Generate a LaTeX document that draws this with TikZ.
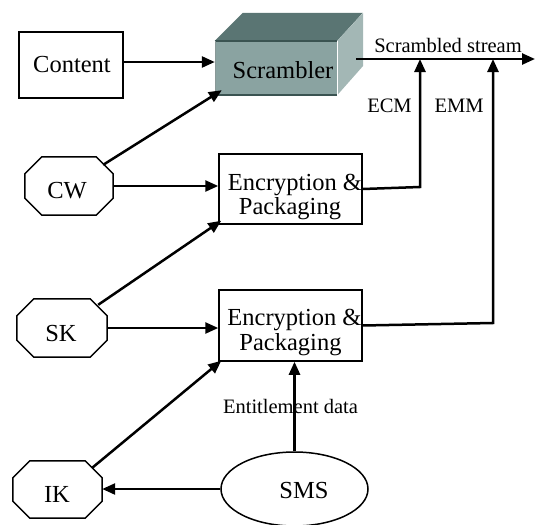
\documentclass[tikz,border=0pt]{standalone}
\usepackage{fontspec}
\setmainfont{Liberation Serif}
\usetikzlibrary{arrows.meta,shapes.geometric,calc}
\newcommand\octframe[1]{\draw[frame] ([xshift=17pt]#1.north west) -- ([xshift=-17pt]#1.north east) -- ([yshift=-17pt]#1.north east) -- ([yshift=17pt]#1.south east) -- ([xshift=-17pt]#1.south east) -- ([xshift=17pt]#1.south west) -- ([yshift=17pt]#1.south west) -- ([yshift=-17pt]#1.north west) -- cycle;}
\definecolor{scrfront}{HTML}{8AA3A1}
\definecolor{scrtop}{HTML}{5A7573}
\definecolor{scrside}{HTML}{A3B7B5}
\definecolor{scredge}{HTML}{3A5351}
\begin{document}
\begin{tikzpicture}[x=1pt,y=-1pt,
  frame/.style={draw=black,line width=1.5pt},
  rectbox/.style={frame,inner sep=0pt},
  octbox/.style={inner sep=0pt},
  maintext/.style={font=\fontsize{24.5}{24}\selectfont,inner sep=0pt,anchor=base},
  smalltext/.style={font=\fontsize{20.5}{22}\selectfont,inner sep=0pt,anchor=base},
  arr/.style={line width=2.5pt,-{Triangle[length=13pt,width=11pt]}},
  link/.style={line width=2.5pt}]
\useasboundingbox (0,0) rectangle (536,525);

% Scrambler block
\node[fill=scrfront,inner sep=0pt,minimum width=122pt,minimum height=54pt] (scr) at (276,68) {};
\fill[scrtop] (scr.north west) -- ++(28,-28) -- ++(120,0) -- (scr.north east) -- cycle;
\fill[scrside] (scr.north east) -- ++(26,-28) -- ++(0,53) -- (scr.south east) -- cycle;
\draw[scredge,line width=1.5pt] (scr.north west) -- (scr.north east);
\draw[scredge,line width=1.5pt] (scr.south west) -- (scr.south east);
\draw[scredge!60,line width=0.6pt] (scr.north west) -- (scr.south west);
\draw[white,line width=1pt] (scr.north east) -- (scr.south east);
\node[maintext] (scrt) at (283,78) {Scrambler};

% Boxes
\node[rectbox,minimum width=104pt,minimum height=66pt] (content) at (71,65) {};
\node[maintext] (contentt) at (72,72) {Content};

\node[rectbox,minimum width=143pt,minimum height=70pt] (enc1) at (290.5,189) {};
\node[maintext] (enc1a) at (295,190) {Encryption \&};
\node[maintext] (enc1b) at (290,214) {Packaging};

\node[rectbox,minimum width=143pt,minimum height=71pt] (enc2) at (290.5,325.5) {};
\node[maintext] (enc2a) at (294.5,325) {Encryption \&};
\node[maintext] (enc2b) at (290.5,350) {Packaging};

% Octagons
\node[octbox,minimum width=88pt,minimum height=58pt] (cw) at (69,186) {};
\octframe{cw}
\node[maintext] (cwt) at (67,198) {CW};
\node[octbox,minimum width=90pt,minimum height=58pt] (sk) at (62,328) {};
\octframe{sk}
\node[maintext] (skt) at (61,341) {SK};
\node[octbox,minimum width=89pt,minimum height=57pt] (ik) at (57.5,489.5) {};
\octframe{ik}
\node[maintext] (ikt) at (57,502) {IK};

% SMS
\node[ellipse,frame,inner sep=0pt,minimum width=147pt,minimum height=74pt] (sms) at (294.5,489) {};
\node[maintext] (smst) at (304,498) {SMS};

% Labels
\node[smalltext] (sslab) at (448,52) {Scrambled stream};
\node[smalltext] (ecmlab) at (389.5,112) {ECM};
\node[smalltext] (emmlab) at (459,112) {EMM};
\node[smalltext] (entlab) at (290.5,413) {Entitlement data};

% Coordinates
\coordinate (sstart) at (356,59);
\coordinate (send) at (535,59);
\coordinate (ecmj) at (420,187);
\coordinate (emmj) at (493,323);

% Connectors
\draw[arr] ([yshift=3pt]content.east) -- ([yshift=6pt]scr.west);
\draw[arr] ([xshift=-10pt,yshift=-8pt]cw.north east) -- ([xshift=7pt,yshift=5pt]scr.south west);
\draw[arr] (cw.east) -- (cw.east -| enc1.west);
\draw[arr] ([xshift=-9pt,yshift=-6pt]sk.north east) -- ([xshift=3pt,yshift=4pt]enc1.south west);
\draw[arr] (sk.east) -- (sk.east -| enc2.west);
\draw[arr] ([xshift=-10pt,yshift=-7pt]ik.north east) -- ([xshift=3pt,yshift=1pt]enc2.south west);
\draw[arr] (sms.west) -- (sms.west -| ik.east);
\draw[arr] (sms.north) -- (sms.north |- enc2.south);
\draw[arr] (sstart) -- (send);
\draw[arr] (enc1.east) -- (ecmj) -- (ecmj |- sstart);
\draw[arr] (enc2.east) -- (emmj) -- (emmj |- sstart);
\end{tikzpicture}
\end{document}
